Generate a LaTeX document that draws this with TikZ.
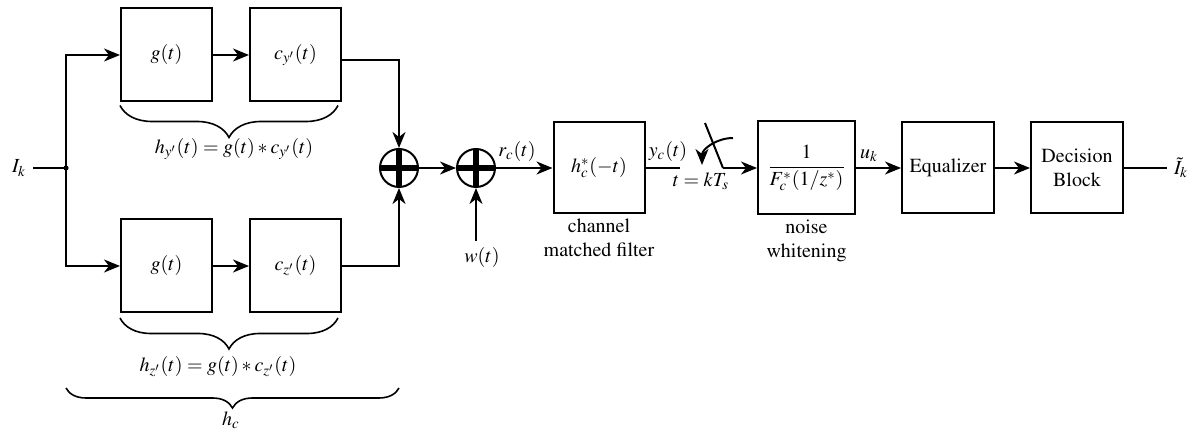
\documentclass[tikz,border=0pt]{standalone}
\usepackage{amsmath}
\usepackage[T1]{fontenc}
\usepackage{mathptmx}
\usepackage{tikz}
\usetikzlibrary{arrows.meta, positioning, calc, decorations.pathreplacing}
\tikzset{
  blk/.style={draw, line width=1pt, minimum width=45.5pt, minimum height=46.5pt,
              inner sep=2pt, align=center},
  sumnode/.style={circle, draw, line width=1pt, minimum size=19pt, inner sep=0pt,
              path picture={\draw[line width=3.2pt]
                (path picture bounding box.north) -- (path picture bounding box.south)
                (path picture bounding box.west) -- (path picture bounding box.east);}},
  sig/.style={-{Stealth[length=8pt, width=6.5pt, inset=2.5pt]}, line width=1pt},
  wire/.style={line width=1pt},
  brc/.style={decorate, decoration={brace, mirror, amplitude=#1}, line width=0.8pt},
  sublbl/.style={align=center, inner sep=2pt},
}

\begin{document}
\begin{tikzpicture}[x=0.5pt, y=-0.5pt, node distance=18pt]
  \useasboundingbox (0,0) rectangle (1196,432);
  \node[blk] (gy) at (166.5,55) {$g(t)$};
  \node[blk, right=of gy] (cy) {$c_{y'}(t)$};
  \node[blk] (gz) at (166.5,266) {$g(t)$};
  \node[blk, right=of gz] (cz) {$c_{z'}(t)$};

  \node (ik) at (19,168) {$I_k$};
  \coordinate (split) at (66,168);
  \node[sumnode] (s1) at (399,168) {};
  \node[sumnode] (s2) at (476,168) {};
  \node (w) at (482,258) {$w(t)$};

  \node[blk, minimum height=45.5pt] (mf) at (599,168) {$h_c^*(-t)$};
  \node[sublbl, below=0pt of mf] (mflbl) {channel\\matched filter};
  \node[blk, minimum width=48.5pt] (nw) at (806.5,168) {$\dfrac{1}{F_c^*(1/z^*)}$};
  \node[sublbl, below=0pt of nw] (nwlbl) {noise\\whitening};
  \node[blk, minimum width=46pt, minimum height=45.5pt, right=22.5pt of nw] (eq) {Equalizer};
  \node[blk, minimum width=46pt, minimum height=45.5pt, right=17.5pt of eq] (dec) {Decision\\Block};
  \node (iout) at (1181,168) {$\tilde{I}_k$};

  \node (rc) at (517,152) {$r_c(t)$};
  \node (yc) at (668,152) {$y_c(t)$};
  \node (uk) at (869,156) {$u_k$};
  \node (ts) at (701,181) {$t = kT_s$};

  \coordinate (swin) at (680,168);
  \coordinate (swpiv) at (723,168);
  \coordinate (swtop) at (705,123);
  \coordinate (arcs) at (733,138);
  \coordinate (arce) at (702,165);

  \draw[wire] (ik) -- (split);
  \fill (split) circle (1.3pt);
  \draw[sig] (split) |- (gy.west);
  \draw[sig] (split) |- (gz.west);
  \draw[sig] (gy) -- (cy);
  \draw[sig] (gz) -- (cz);
  \draw[sig] ($(cy.east)+(0,5)$) -| (s1.north);
  \draw[sig] (cz.east) -| (s1.south);
  \draw[sig] (s1) -- (s2);
  \draw[sig] (w.north -| s2) -- (s2.south);
  \draw[sig] (s2) -- (mf);
  \draw[wire] (mf.east) -- (swin);
  \draw[wire] (swtop) -- (swpiv);
  \draw[sig] (swpiv) -- (nw.west);
  \draw[sig] (arcs) to[out=180, in=90] (arce);
  \draw[sig] (nw) -- (eq);
  \draw[sig] (eq) -- (dec);
  \draw[wire] (dec.east) -- (iout.west);

  \draw[brc=16pt] ($(gy.south west)+(0,3)$) -- ($(cy.south east)+(-4,3)$);
  \node (hy) at (234,149) {$h_{y'}(t) = g(t) * c_{y'}(t)$};
  \draw[brc=15.5pt] ($(gz.south west)+(0,4.5)$) -- ($(cz.south east)+(-4,4.5)$);
  \node (hz) at (218,367) {$h_{z'}(t) = g(t) * c_{z'}(t)$};
  \draw[brc=10pt] ($(split)+(0,220)$) -- ($(s1)+(0,220)$);
  \node (hc) at (231,420) {$h_c$};
\end{tikzpicture}
\end{document}
